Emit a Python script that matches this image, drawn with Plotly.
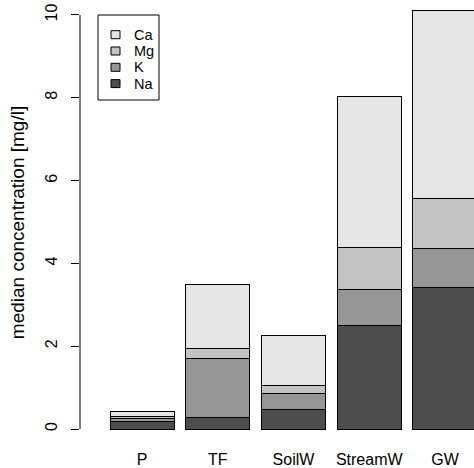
import plotly.graph_objects as go

sites = ["P", "TF", "SoilW", "StreamW", "GW"]
na = [0.18, 0.27, 0.48, 2.50, 3.41]
k = [0.065, 1.44, 0.37, 0.86, 0.95]
mg = [0.05, 0.23, 0.21, 1.03, 1.20]
ca = [0.13, 1.56, 1.20, 3.63, 4.54]
yticks = [0, 2, 4, 6, 8, 10]

series = [("Na", na, "#4D4D4D"), ("K", k, "#969696"), ("Mg", mg, "#C3C3C3"), ("Ca", ca, "#E6E6E6")]

W, H = 474, 468
ML, MR, MT, MB = 80, 0, 0, 23
PW, PH = W - ML - MR, H - MT - MB

def px(xp):
    return (xp - ML) / PW

def py(yp):
    return 1 - (yp - MT) / PH

xpos = list(range(len(sites)))
fig = go.Figure()
for name, vals, col in series:
    fig.add_trace(go.Bar(x=xpos, y=vals, name=name, width=0.845, showlegend=False,
                         marker=dict(color=col, line=dict(color="black", width=1))))

font = "Liberation Sans, Arial, Helvetica, sans-serif"
fig.update_layout(
    width=W, height=H,
    margin=dict(l=ML, r=MR, t=MT, b=MB, pad=0, autoexpand=False),
    barmode="stack",
    plot_bgcolor="white", paper_bgcolor="white",
    font=dict(family=font, size=16, color="black"),
    showlegend=False,
    xaxis=dict(range=[-0.8185, 4.383], tickvals=xpos, ticktext=sites,
               showline=False, showgrid=False, zeroline=False, ticks="",
               ticklabelstandoff=3, automargin=False),
    yaxis=dict(range=[-0.386, 10.362], tickvals=yticks, ticktext=[str(v) for v in yticks],
               showline=False, showgrid=False, zeroline=False, ticks="outside",
               ticklen=8, tickcolor="black", tickwidth=1, tickangle=-90,
               ticklabelstandoff=8, automargin=False, tickfont=dict(size=16),
               title=dict(text="median concentration [mg/l]", standoff=12)),
)
# y axis line from 0 to 10 (R style)
fig.add_shape(type="line", xref="paper", yref="y", x0=0, x1=0, y0=yticks[0], y1=yticks[-1],
              line=dict(color="black", width=1))

# legend box (R style)
fig.add_shape(type="rect", xref="paper", yref="paper", x0=px(98), x1=px(159), y0=py(100), y1=py(15),
              line=dict(color="black", width=1), fillcolor="white", layer="above")
row_y = [34.7, 51.0, 67.3, 83.6]
for (name, vals, col), yc in zip(reversed(series), row_y):
    fig.add_shape(type="rect", xref="paper", yref="paper", x0=px(111), x1=px(120),
                  y0=py(yc + 4), y1=py(yc - 4), fillcolor=col,
                  line=dict(color="black", width=1), layer="above")
    fig.add_annotation(xref="paper", yref="paper", x=px(132), y=py(yc), text=name,
                       showarrow=False, xanchor="left", yanchor="middle",
                       font=dict(size=14.5), xshift=0)
fig.write_html("out.html")
